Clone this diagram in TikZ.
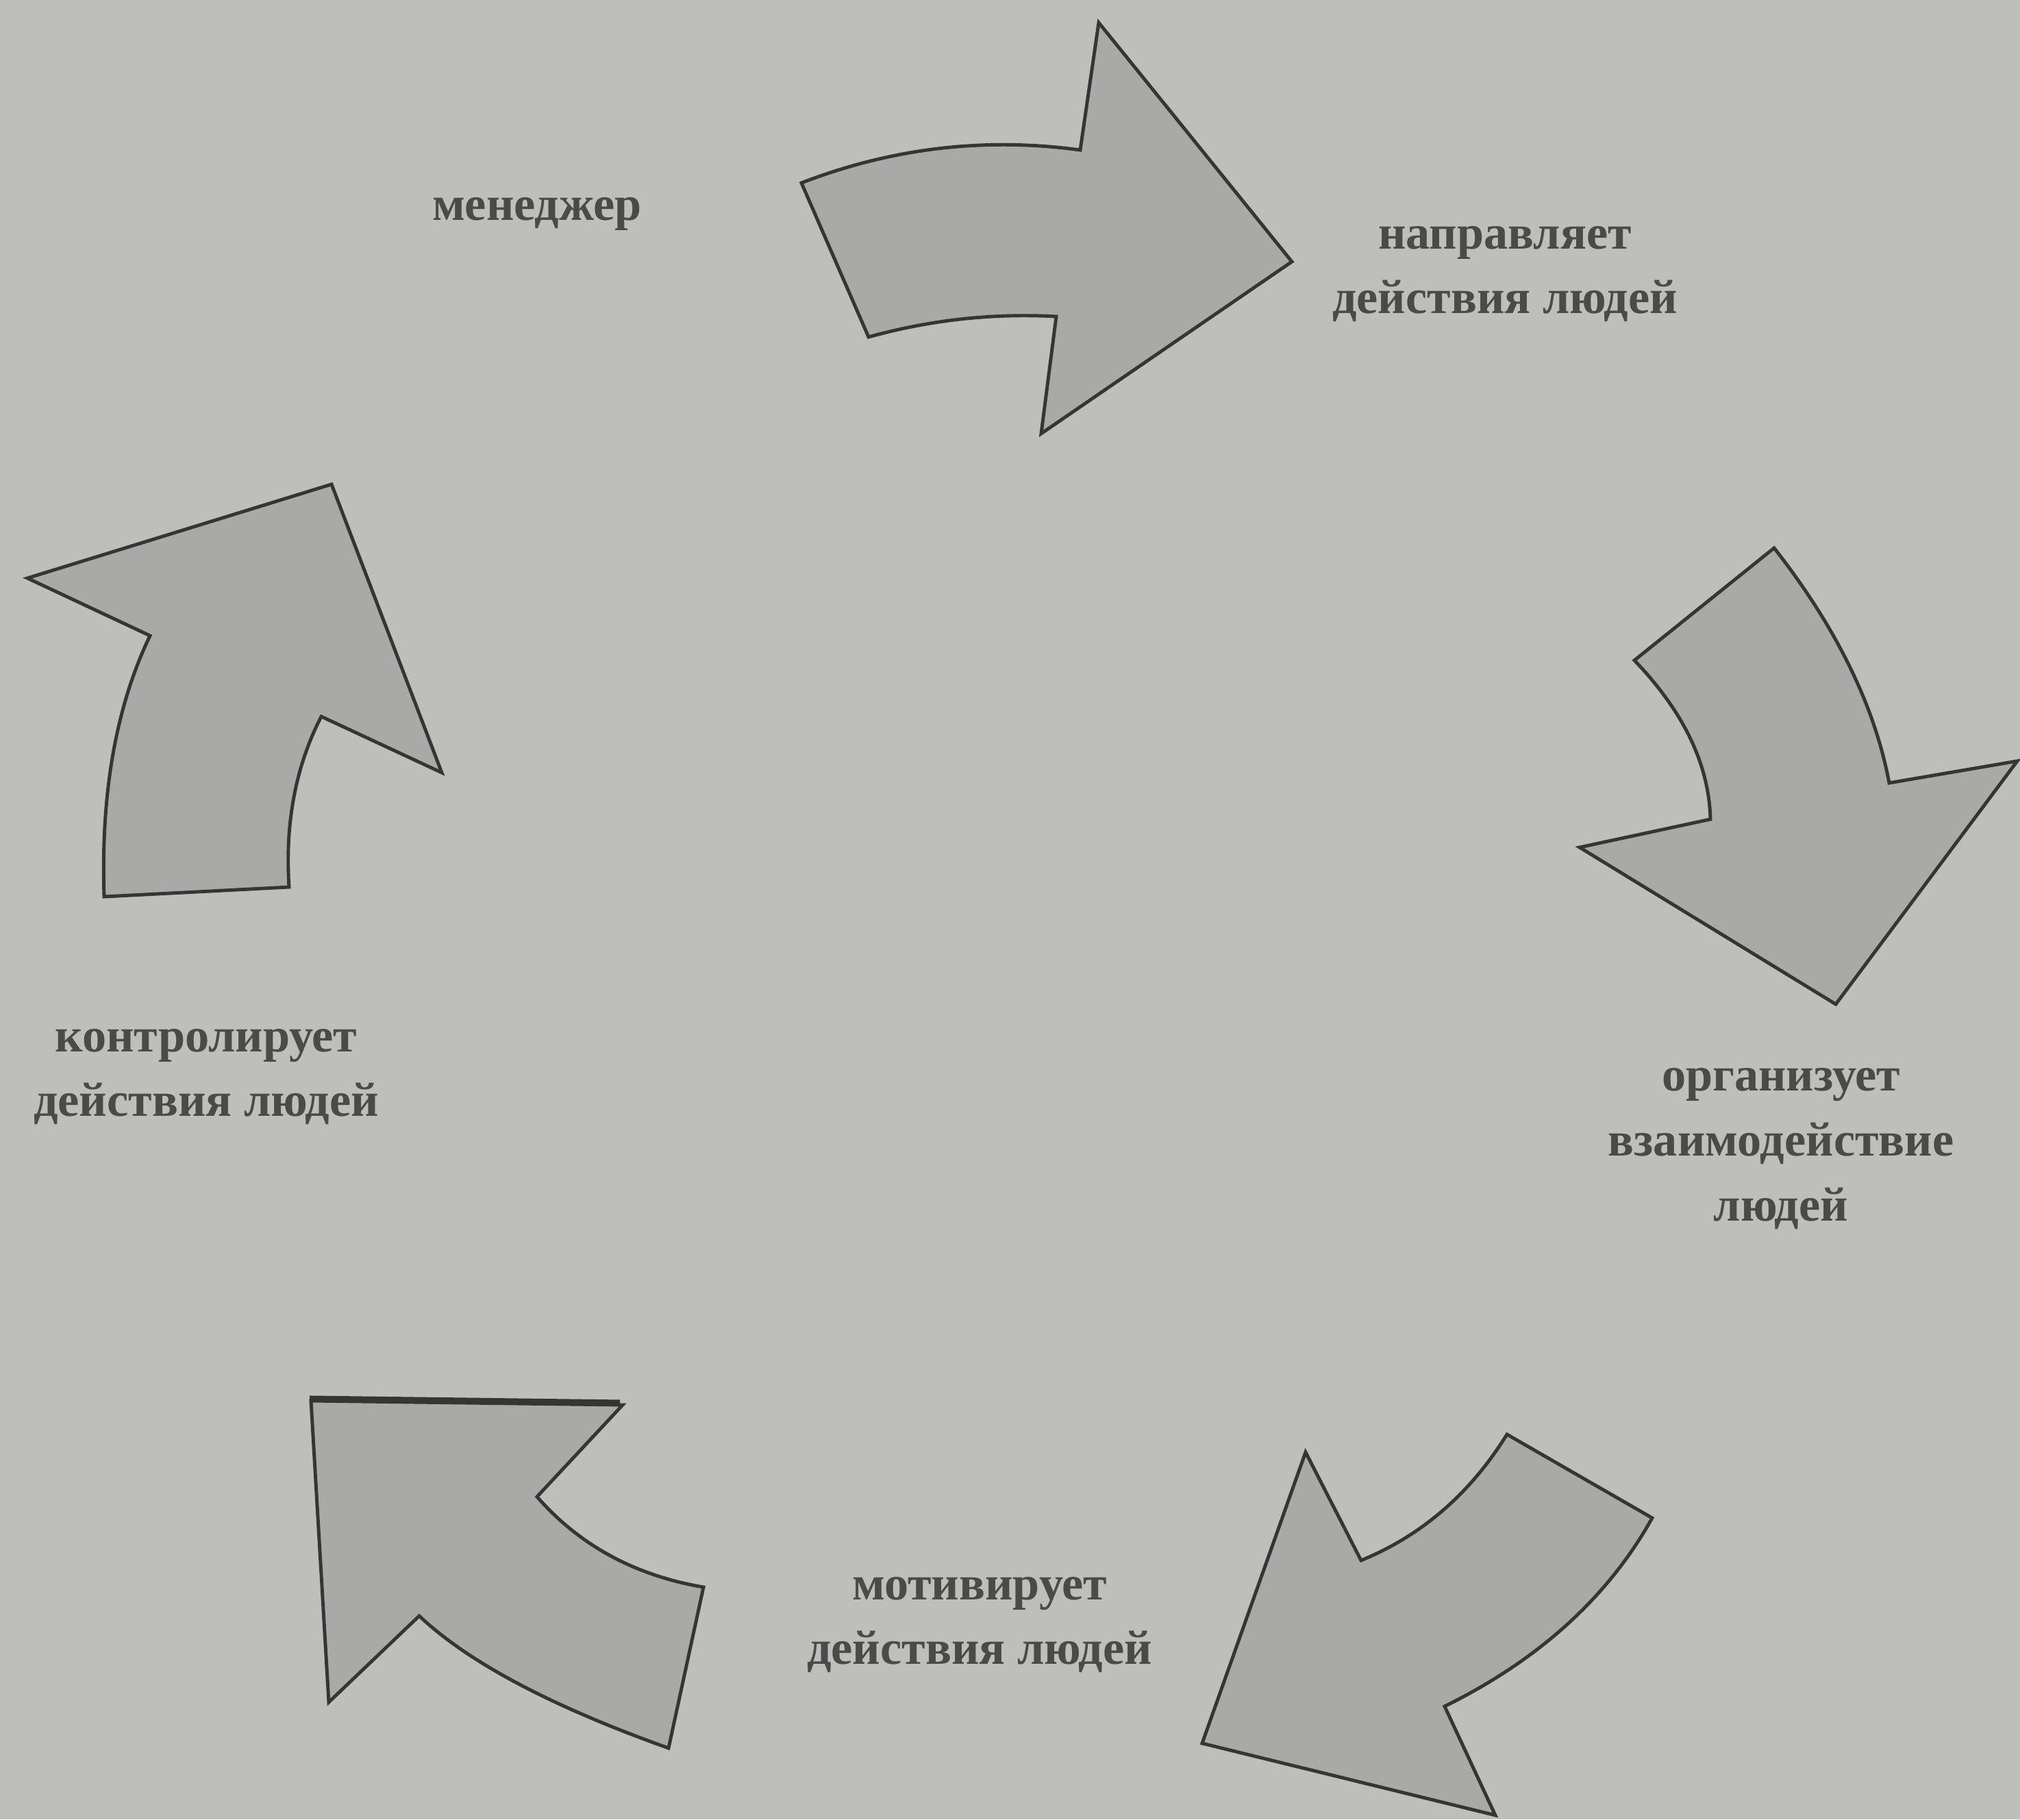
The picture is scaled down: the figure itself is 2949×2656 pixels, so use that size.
\documentclass[tikz,border=0pt]{standalone}
\usepackage{fontspec}
\setmainfont{Liberation Serif}
\definecolor{paper}{HTML}{BEBEBA}
\definecolor{shade}{HTML}{A9A9A7}
\definecolor{ink}{HTML}{353535}
\definecolor{print}{HTML}{4A4A48}
\begin{document}
\begin{tikzpicture}[x=0.01cm,y=-0.01cm,
	blade/.style={fill=shade,draw=ink,line width=1.4pt,line join=miter},
	caption/.style={text=print,font=\fontsize{20}{27}\selectfont\bfseries,align=center,inner sep=0pt}]
\fill[paper] (0,0) rectangle (2949,2656);
\useasboundingbox (0,0) rectangle (2949,2656);

\draw[blade] (1170,267) .. controls (1302,216) and (1438,200) .. (1577,219) -- (1604,33) -- (1886,382)
	-- (1520,633) -- (1542,462) .. controls (1449,457) and (1358,467) .. (1268,492) -- cycle;
\draw[blade] (2590,800) -- (2386,964) .. controls (2458,1039) and (2495,1116) .. (2497,1196) -- (2306,1237)
	-- (2680,1466) -- (2945,1111) -- (2758,1143) .. controls (2737,1031) and (2681,916) .. cycle;
\draw[blade] (2200,2094) -- (2412,2216) .. controls (2348,2331) and (2247,2423) .. (2109,2491) -- (2183,2650)
	-- (1755,2545) -- (1906,2120) -- (1987,2278) .. controls (2075,2242) and (2146,2181) .. cycle;
\draw[blade] (454,2045) -- (909,2051) -- (784,2185) .. controls (846,2256) and (927,2300) .. (1027,2317)
	-- (976,2552) .. controls (805,2491) and (684,2427) .. (612,2359) -- (480,2485) -- cycle;
\draw[ink,line width=2.6pt] (452,2042) -- (905,2048);
\draw[blade] (40,844) -- (484,707) -- (645,1128) -- (469,1046) .. controls (431,1120) and (416,1203) .. (422,1295)
	-- (152,1309) .. controls (147,1159) and (169,1032) .. (219,928) -- cycle;

\node[caption] (manager) at (784,312) {менеджер};
\node[caption] (direct) at (2197,400) {направляет\\действия людей};
\node[caption] (organize) at (2600,1677) {организует\\взаимодействие\\людей};
\node[caption] (motivate) at (1430,2372) {мотивирует\\действия людей};
\node[caption] (control) at (301,1572) {контролирует\\действия людей};
\end{tikzpicture}
\end{document}
